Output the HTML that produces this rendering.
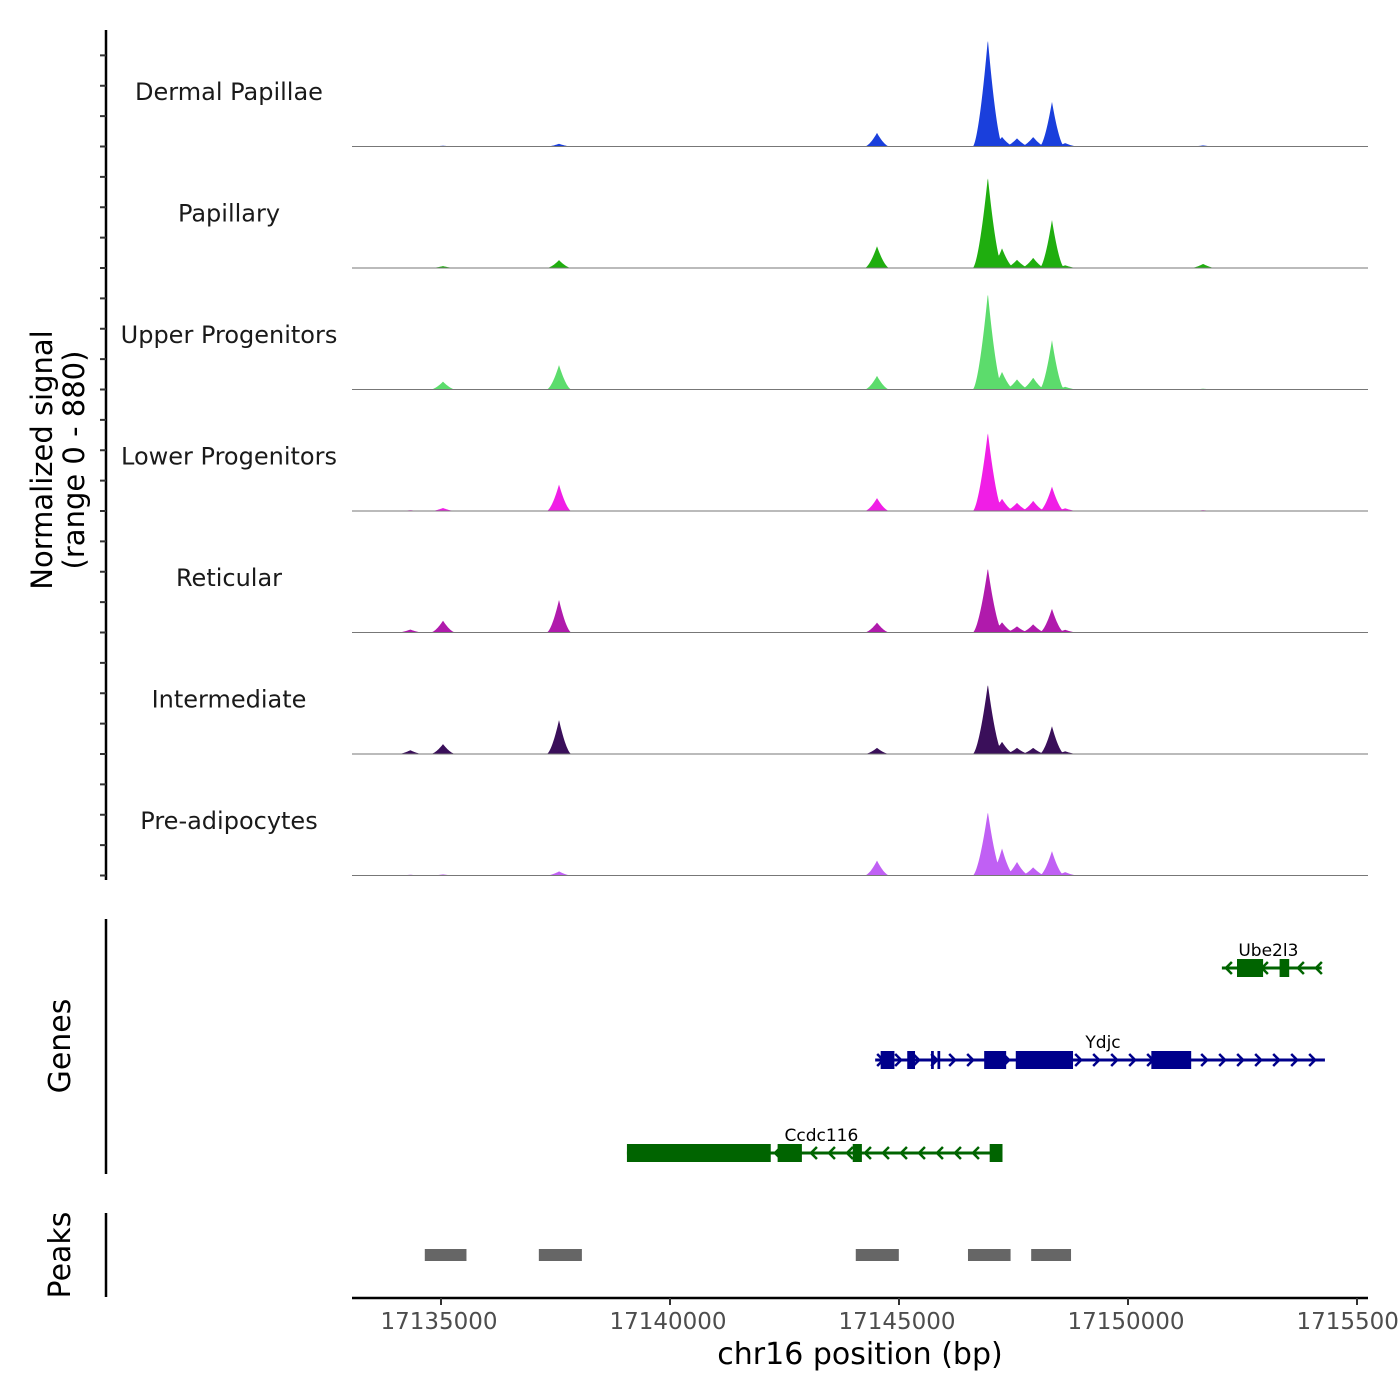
<!DOCTYPE html>
<html><head><meta charset="utf-8"><style>
body{margin:0;background:#fff}
svg{display:block;font-family:"DejaVu Sans","Liberation Sans",sans-serif}
</style></head><body>
<svg id="c" width="1400" height="1400" viewBox="0 0 1400 1400"></svg>
<script>
const trackNames=["Dermal Papillae","Papillary","Upper Progenitors","Lower Progenitors","Reticular","Intermediate","Pre-adipocytes"];
const trackColors=["#1a3fdc","#1fae0f","#5cdc6c","#f01ee6","#b01aac","#3a0f5a","#c060f4"];
const peakPositions=[17134330,17135044,17137577,17144520,17146940,17147250,17147577,17147930,17148340,17148630,17151640];
const dermalValues=[3,6,20,100,790,70,60,70,330,25,8];
const papillaryValues=[3,14,58,160,670,145,60,75,355,20,30];
const upperValues=[4,58,180,100,710,130,75,87,365,20,6];
const lowerValues=[6,22,195,95,580,90,60,75,180,20,6];
const reticularValues=[22,87,240,73,475,75,45,60,175,20,4];
const intermediateValues=[28,73,250,45,515,90,45,45,205,20,4];
const preadipoValues=[6,8,30,110,470,200,100,60,180,25,4];
const trackValues=[dermalValues,papillaryValues,upperValues,lowerValues,reticularValues,intermediateValues,preadipoValues];
const xTicks=[17135000,17140000,17145000,17150000,17155000];
const peakStarts=[17134690,17137180,17144100,17146550,17147930];
const peakEnds=[17135600,17138120,17145040,17147480,17148800];
const genes=[
 {name:"Ube2l3",strand:-1,color:"#006400",row:0,start:17152050,end:17154230,exons:[[17152380,17152950],[17153310,17153520]],label:17152410},
 {name:"Ydjc",strand:1,color:"#00008b",row:1,start:17144480,end:17154300,exons:[[17144600,17144900],[17145180,17145350],[17145700,17145760],[17145840,17145900],[17146860,17147340],[17147550,17148800],[17150510,17151380]],label:17149070},
 {name:"Ccdc116",strand:-1,color:"#006400",row:2,start:17139060,end:17147260,exons:[[17139060,17142200],[17142350,17142880],[17143990,17144190],[17146980,17147260]],label:17142500}
];
const NS="http://www.w3.org/2000/svg";
const svg=document.getElementById('c');
function mk(t,a,p){const e=document.createElementNS(NS,t);for(const k in a)e.setAttribute(k,a[k]);(p||svg).appendChild(e);return e;}
const x0=352,x1=1368,bp0=17133057,pxPerBp=229/5000;
const X=bp=>x0+(bp-bp0)*pxPerBp;
const trackTop=25,trackH=121.5,maxV=880;
const Y=(i,v)=>trackTop+trackH*(i+1)-v/maxV*(trackH-2);
trackValues.forEach((vals,i)=>{
  const g=mk('g',{});
  
  
  let d=`M${x0},${Y(i,0)}`;
  for(let px=x0;px<=x1;px+=0.5){
    const bp=bp0+(px-x0)/pxPerBp;let v=0;
    peakPositions.forEach((p,k)=>{const w=k==4?330:270;const dd=Math.abs(bp-p);if(dd<w){const s=vals[k]*Math.pow(1-dd/w,1.6);v=Math.max(v,s);}});
    d+=`L${px},${Y(i,v).toFixed(2)}`;
  }
  d+=`L${x1},${Y(i,0)}Z`;
  const p=mk('path',{d:d,fill:trackColors[i]},g);
  
  const b=mk('line',{x1:x0,x2:x1,y1:Y(i,0),y2:Y(i,0),stroke:'#777','stroke-width':1},g);
  
  const t=mk('text',{x:229,y:trackTop+trackH*i+75,'text-anchor':'middle','font-size':24,fill:'#1a1a1a'},g);
  t.textContent=trackNames[i];
  
});
const la=mk('line',{x1:106,x2:106,y1:30,y2:880,stroke:'#000','stroke-width':2.5});

for(let i=0;i<7;i++)for(let j=0;j<4;j++){const yy=trackTop+trackH*(i+1)-j*trackH/4;if(yy<30)continue;
 const tk=mk('line',{x1:100,x2:106,y1:yy,y2:yy,stroke:'#333','stroke-width':2});}
const yl=mk('text',{transform:'translate(52,460) rotate(-90)','text-anchor':'middle','font-size':29,fill:'#000'});

yl.innerHTML='<tspan x="0" y="0">Normalized signal</tspan><tspan x="0" y="32">(range 0 - 880)</tspan>';
const gl=mk('line',{x1:106,x2:106,y1:919,y2:1174,stroke:'#000','stroke-width':2.5});

const gt=mk('text',{transform:'translate(70,1046) rotate(-90)','text-anchor':'middle','font-size':30});gt.textContent='Genes';

const rowY=[968,1060,1153];
genes.forEach(gn=>{
  const g=mk('g',{});
  const y=rowY[gn.row];
  mk('line',{x1:X(gn.start),x2:X(gn.end),y1:y,y2:y,stroke:gn.color,'stroke-width':3},g);
  for(let px=X(gn.start)+6;px<X(gn.end);px+=18){
    const s=gn.strand;mk('polyline',{points:`${px-4*s},${y-6} ${px+2*s},${y} ${px-4*s},${y+6}`,fill:'none',stroke:gn.color,'stroke-width':2.5},g);
  }
  gn.exons.forEach(e=>{const r=mk('rect',{x:X(e[0]),y:y-9,width:Math.max(2,X(e[1])-X(e[0])),height:18,fill:gn.color},g);});
  const t=mk('text',{x:X(gn.label),y:y-12,'text-anchor':'start','font-size':17,fill:'#000'},g);t.textContent=gn.name;
  
});
const pl=mk('line',{x1:106,x2:106,y1:1213,y2:1297,stroke:'#000','stroke-width':2.5});

const pt=mk('text',{transform:'translate(70,1255) rotate(-90)','text-anchor':'middle','font-size':30});pt.textContent='Peaks';

peakStarts.forEach((s,k)=>{const r=mk('rect',{x:X(s)-2,y:1249,width:X(peakEnds[k])-X(s),height:12,fill:'#666'});
 });
const xa=mk('line',{x1:x0,x2:x1,y1:1298,y2:1298,stroke:'#000','stroke-width':2.5});

xTicks.forEach(v=>{const tk=mk('line',{x1:X(v),x2:X(v),y1:1298,y2:1305,stroke:'#333','stroke-width':2});
 
 const t=mk('text',{x:X(v)-2,y:1329,'text-anchor':'middle','font-size':23,fill:'#4d4d4d'});t.textContent=v;
 });
const xt=mk('text',{x:860,y:1364,'text-anchor':'middle','font-size':30});xt.textContent='chr16 position (bp)';

</script>
</body></html>
